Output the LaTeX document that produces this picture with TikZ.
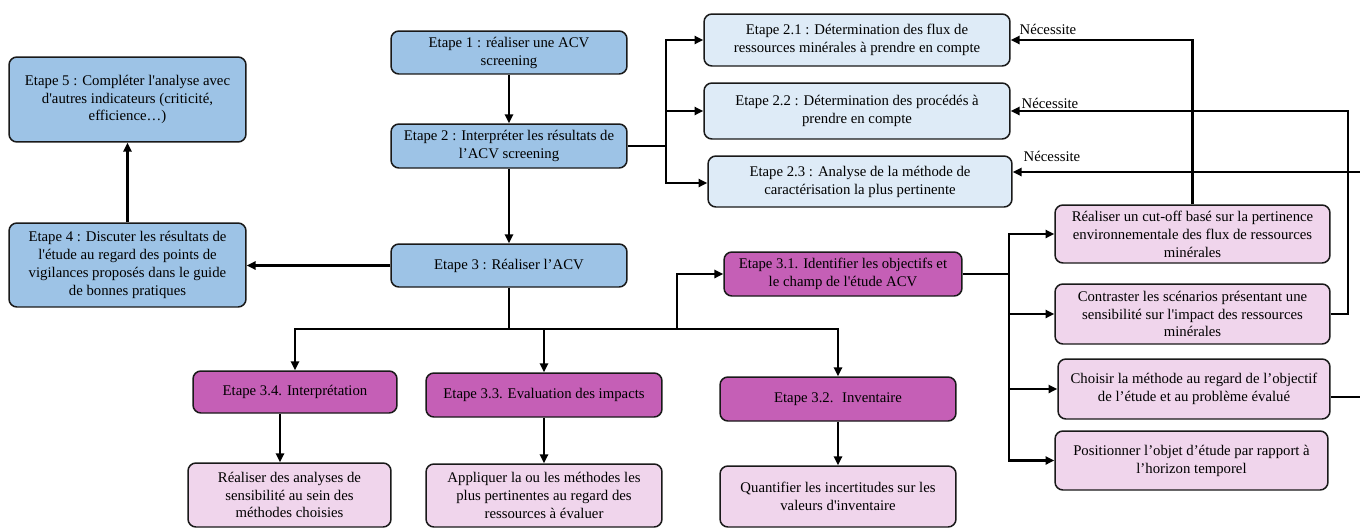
\documentclass[tikz,border=0pt]{standalone}
\usepackage{fontspec}
\setmainfont{Liberation Serif}
\usetikzlibrary{arrows.meta,positioning}
\definecolor{stepblue}{HTML}{9DC3E6}
\definecolor{subblue}{HTML}{DEEBF7}
\definecolor{phasemag}{HTML}{C55FB6}
\definecolor{actpink}{HTML}{F0D5EC}
\tikzset{
  box/.style={draw=black!90, line width=0.85pt, rounded corners=4.5pt, align=center, inner sep=0pt,
    font=\fontsize{8.4}{10.2}\selectfont},
  dim/.style 2 args={minimum width=#1cm, minimum height=#2cm},
  stepbox/.style={box, fill=stepblue},
  subbox/.style={box, fill=subblue},
  phasebox/.style={box, fill=phasemag},
  actbox/.style={box, fill=actpink},
  arr/.style={-{Triangle[length=5pt,width=4.6pt]}, line width=1.3pt},
  lbl/.style={font=\fontsize{8.4}{10}\selectfont, inner sep=0pt}
}
\begin{document}
\begin{tikzpicture}[x=0.02cm, y=-0.02cm]
        \useasboundingbox (0,0) rectangle (1360,528);

        % Main column - steps 1 to 3
        \node[stepbox, dim={4.72}{0.86}] (e1) at (509,52.5) {Etape 1 : réaliser une ACV\\screening};
        \node[stepbox, dim={4.72}{0.88}] (e2) at (509,146) {Etape 2 : Interpréter les résultats de\\l’ACV screening};
        \node[stepbox, dim={4.72}{0.86}] (e3) at (509,265.5) {Etape 3 : Réaliser l’ACV};

        % Left column - steps 4 and 5
        \node[stepbox, dim={4.74}{1.70}] (e5) at (127.5,99.5) {Etape 5 : Compléter l\textquotesingle analyse avec\\d\textquotesingle autres indicateurs (criticité,\\efficience…)};
        \node[stepbox, dim={4.74}{1.68}] (e4) at (127.5,265) {Etape 4 : Discuter les résultats de\\l\textquotesingle étude au regard des points de\\vigilances proposés dans le guide\\de bonnes pratiques};

        % Sub-steps of step 2
        \node[subbox, dim={6.12}{1.04}] (e21) at (857,40) {Etape 2.1 : Détermination des flux de\\ressources minérales à prendre en compte};
        \node[subbox, dim={6.12}{1.12}] (e22) at (857,111) {Etape 2.2 : Détermination des procédés à\\prendre en compte};
        \node[subbox, dim={6.08}{1.02}] (e23) at (860,181.5) {Etape 2.3 : Analyse de la méthode de\\caractérisation la plus pertinente};

        % Phases of step 3
        \node[phasebox, dim={4.76}{0.88}] (e31) at (843,274) {Etape 3.1. Identifier les objectifs et\\le champ de l\textquotesingle étude ACV};
        \node[phasebox, dim={4.72}{0.88}] (e32) at (838,399) {Etape 3.2. \ Inventaire};
        \node[phasebox, dim={4.72}{0.88}] (e33) at (544,395) {Etape 3.3. Evaluation des impacts};
        \node[phasebox, dim={4.08}{0.84}] (e34) at (295,392) {Etape 3.4. Interprétation};

        % Actions under each phase
        \node[actbox, dim={4.06}{1.28}] (s34) at (289.5,495) {Réaliser des analyses de\\sensibilité au sein des\\méthodes choisies};
        \node[actbox, dim={4.72}{1.26}] (s33) at (544,495.5) {Appliquer la ou les méthodes les\\plus pertinentes au regard des\\ressources à évaluer};
        \node[actbox, dim={4.72}{1.22}] (s32) at (838,496.5) {Quantifier les incertitudes sur les\\valeurs d\textquotesingle inventaire};

        % Actions of phase 3.1
        \node[actbox, dim={5.50}{1.16}] (c1) at (1192.5,234) {Réaliser un cut-off basé sur la pertinence\\environnementale des flux de ressources\\minérales};
        \node[actbox, dim={5.50}{1.20}] (c2) at (1192.5,314) {Contraster les scénarios présentant une\\sensibilité sur l\textquotesingle impact des ressources\\minérales};
        \node[actbox, dim={5.44}{1.20}] (c3) at (1194,389) {Choisir la méthode au regard de l’objectif\\de l’étude et au problème évalué};
        \node[actbox, dim={5.46}{1.18}] (c4) at (1191.5,460.5) {Positionner l’objet d’étude par rapport à\\l’horizon temporel};

        % Junction points
        \coordinate (j2) at (666,146);
        \coordinate (j3) at (509,329);
        \coordinate (k3) at (677,329);
        \coordinate (j31) at (1009,274);

        % Connectors
        \draw[arr] (e1) -- (e2);
        \draw[arr] (e2) -- (e3);
        \draw[arr] (e2.east) -- (j2) |- (e21.west);
        \draw[arr] (j2) |- (e22.west);
        \draw[arr] (j2) |- ([yshift=-0.03cm]e23.west);
        \draw[arr] (e3.west) -- (e3.west -| e4.east);
        \draw[arr] (e4) -- (e5);
        \draw[arr] (e3.south) -- (j3) -| (e34.north);
        \draw[arr] (j3) -| (e33.north);
        \draw[arr] (j3) -| (e32.north);
        \draw[arr] (j3) -- (k3) |- (e31.west);
        \draw[arr] ([xshift=-0.3cm]e34.south) -- ([xshift=-0.3cm]e34.south |- s34.north);
        \draw[arr] (e33) -- (s33);
        \draw[arr] (e32) -- (s32);
        \draw[arr] (e31.east) -- (j31) |- (c1.west);
        \draw[arr] (j31) |- (c2.west);
        \draw[arr] (j31) |- (c3.west);
        \draw[arr] (j31) |- (c4.west);

        % Feedback links
        \draw[arr] (c1.north) |- (e21.east);
        \draw[arr] (c2.east) -- ++(17,0) |- (e22.east);
        \draw[arr] ([yshift=-0.16cm]c3.east) -- ++(40,0) |- ([yshift=0.19cm]e23.east);
        \node[lbl] (nec1) at (1048,29) {Nécessite};
        \node[lbl] (nec2) at (1050,103) {Nécessite};
        \node[lbl] (nec3) at (1052,156) {Nécessite};
    \end{tikzpicture}
\end{document}
